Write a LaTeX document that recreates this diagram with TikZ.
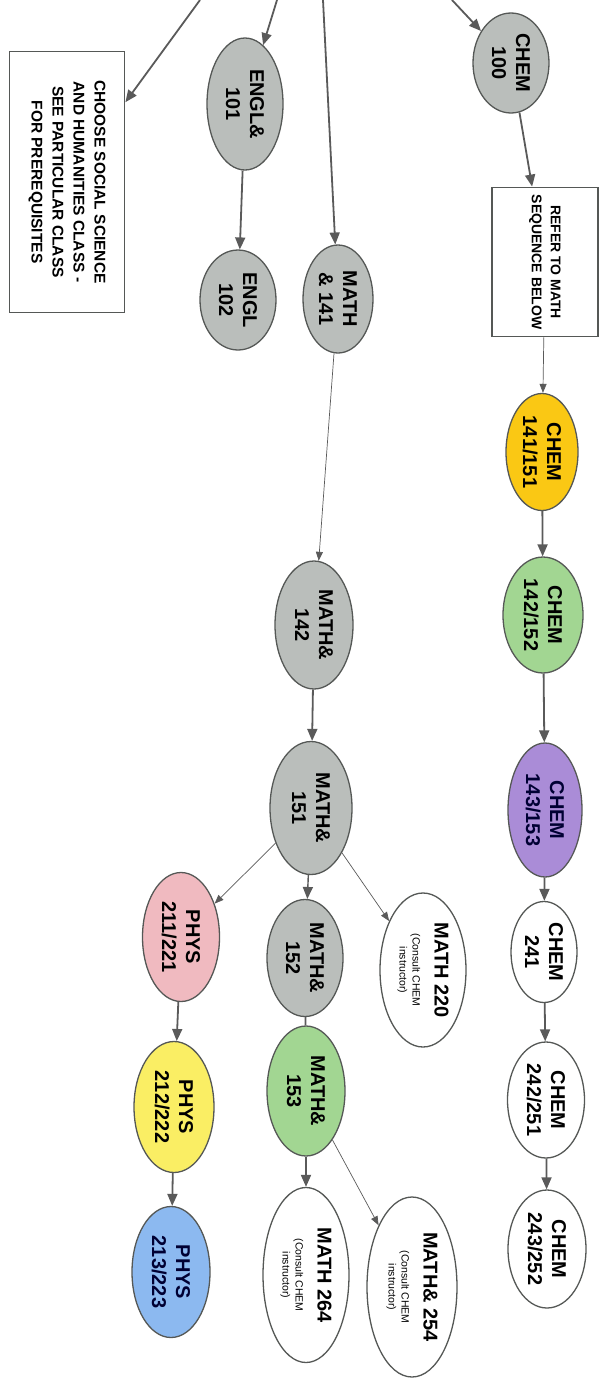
\documentclass[tikz,border=0pt]{standalone}
\usepackage{fontspec}
\setmainfont{Liberation Sans}
\usepackage{tikz}
\usetikzlibrary{shapes.geometric}
\usetikzlibrary{arrows.meta}
\tikzset{>={Triangle[width=10pt,length=12pt]}}
\definecolor{edgegray}{RGB}{85,88,86}
\definecolor{linegray}{RGB}{90,90,90}
\definecolor{coursegray}{RGB}{186,190,187}
\definecolor{chemyellow}{RGB}{250,200,20}
\definecolor{coursegreen}{RGB}{162,214,146}
\definecolor{chempurple}{RGB}{170,140,215}
\definecolor{physpink}{RGB}{240,186,192}
\definecolor{physyellow}{RGB}{250,238,100}
\definecolor{physblue}{RGB}{140,185,240}
\newcommand{\consultnote}{\\[-2pt]{\mdseries\fontsize{10.5}{12}\selectfont (Consult CHEM}\\[-11pt]{\mdseries\fontsize{10.5}{12}\selectfont instructor)}}

\begin{document}
\begin{tikzpicture}[
    x = 1pt, y = -1pt,
    course/.style = {ellipse, draw=edgegray, line width=1.3pt, rotate=-90,
        inner sep=0pt, align=center,
        font=\bfseries\fontsize{20}{24}\selectfont},
    notebox/.style = {rectangle, draw=edgegray, line width=1.8pt, rotate=-90,
        inner sep=0pt, align=center, font=\bfseries},
    link/.style = {->, draw=linegray, line width=1.8pt},
    thinlink/.style = {-{Triangle[width=7pt,length=9pt]}, draw=linegray, line width=0.7pt}
  ]
  \useasboundingbox (0,0) rectangle (605,1384);

  % boxes
  \node[notebox, minimum width=261pt, minimum height=115pt,
    font=\bfseries\fontsize{15.5}{21}\selectfont] (social) at (67,182)
    {CHOOSE SOCIAL SCIENCE\\AND HUMANITIES CLASS -\\SEE PARTICULAR CLASS\\FOR PREREQUISITES};
  \node[notebox, minimum width=149pt, minimum height=106pt,
    font=\bfseries\fontsize{14}{19}\selectfont] (refer) at (545,262)
    {REFER TO MATH\\SEQUENCE BELOW};

  % english
  \node[course, fill=coursegray, minimum width=132pt, minimum height=76pt] (engA) at (245,104) {ENGL\&\\101};
  \node[course, fill=coursegray, minimum width=100pt, minimum height=76pt] (engB) at (238,300) {ENGL\\102};

  % chemistry
  \node[course, fill=coursegray, minimum width=100pt, minimum height=76pt] (chemA) at (511,63) {CHEM\\100};
  \node[course, fill=chemyellow, minimum width=117pt, minimum height=72pt] (chemB) at (542,452) {CHEM\\141/151};
  \node[course, fill=coursegreen, minimum width=116pt, minimum height=80pt] (chemC) at (543,615) {CHEM\\142/152};
  \node[course, fill=chempurple, minimum width=134pt, minimum height=74pt, text=black!80!blue] (chemD) at (545,810) {CHEM\\143/153};
  \node[course, fill=white, minimum width=101pt, minimum height=66pt] (chemE) at (544,952) {CHEM\\241};
  \node[course, fill=white, minimum width=116pt, minimum height=77pt] (chemF) at (546,1100) {CHEM\\242/251};
  \node[course, fill=white, minimum width=118pt, minimum height=78pt] (chemG) at (547,1249) {CHEM\\243/252};

  % math
  \node[course, fill=coursegray, minimum width=108pt, minimum height=70pt] (mathA) at (338,299) {MATH\\\& 141};
  \node[course, fill=coursegray, minimum width=128pt, minimum height=78pt] (mathB) at (314,625) {MATH\&\\142};
  \node[course, fill=coursegray, minimum width=133pt, minimum height=82pt] (mathC) at (311,808) {MATH\&\\151};
  \node[course, fill=coursegray, minimum width=117pt, minimum height=76pt] (mathD) at (305,958) {MATH\&\\152};
  \node[course, fill=coursegreen, minimum width=130pt, minimum height=78pt] (mathE) at (306,1091) {MATH\&\\153};
  \node[course, fill=white, minimum width=154pt, minimum height=86pt] (mathF) at (423,970) {MATH 220\consultnote};
  \node[course, fill=white, minimum width=175pt, minimum height=86pt] (mathG) at (306,1275) {MATH 264\consultnote};
  \node[course, fill=white, minimum width=180pt, minimum height=90pt] (mathH) at (412,1287) {MATH\& 254\consultnote};

  % physics
  \node[course, fill=physpink, minimum width=129pt, minimum height=77pt] (physA) at (181,937) {PHYS\\211/221};
  \node[course, fill=physyellow, minimum width=131pt, minimum height=80pt] (physB) at (174,1107) {PHYS\\212/222};
  \node[course, fill=physblue, minimum width=131pt, minimum height=78pt, text=black!80!blue] (physC) at (171,1272) {PHYS\\213/223};

  % arrows coming in from above
  \coordinate (fromA) at (200,0);
  \coordinate (fromB) at (277,0);
  \coordinate (fromC) at (323,0);
  \coordinate (fromD) at (452,0);
  \draw[link] (fromA) -- (social);
  \draw[link] (fromB) -- (engA);
  \draw[link] (fromC) -- (mathA);
  \draw[link] (fromD) -- (chemA);

  \draw[link] (engA) -- (engB);
  \draw[link] (chemA) -- (refer);
  \draw[thinlink] (refer) -- (chemB);
  \draw[link] (chemB) -- (chemC);
  \draw[link] (chemC) -- (chemD);
  \draw[link] (chemD) -- (chemE);
  \draw[link] (chemE) -- (chemF);
  \draw[link] (chemF) -- (chemG);

  \draw[thinlink] (mathA) -- (mathB);
  \draw[link] (mathB) -- (mathC);
  \draw[link, line width=1.4pt] (mathC) -- (mathD);
  \draw[thinlink] (mathC) -- (physA);
  \draw[thinlink] (mathC) -- (mathF);
  \draw[draw=linegray, line width=1.8pt] (mathD) -- (mathE);
  \draw[link] (mathE) -- (mathG);
  \draw[thinlink] (mathE) -- (mathH);

  \draw[link] (physA) -- (physB);
  \draw[link] (physB) -- (physC);
\end{tikzpicture}
\end{document}
